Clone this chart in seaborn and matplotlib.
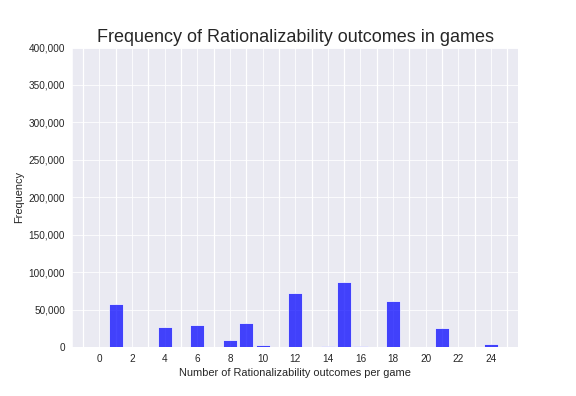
import matplotlib
matplotlib.use("Agg")
import matplotlib.pyplot as plt
import matplotlib.ticker as mticker
import seaborn as sns

# number of outcomes per game and how often it occurs
outcomes = list(range(25))
counts = [0, 58000, 0, 0, 27200, 0, 29900, 0, 9800, 32500, 3100, 0, 72700,
          0, 2300, 87400, 2000, 0, 62000, 0, 0, 25800, 0, 0, 4400]

sns.set_style("darkgrid", {'grid.linewidth': 1.25})
plt.rcParams['font.family'] = ['Liberation Sans', 'DejaVu Sans']

fig, ax = plt.subplots(figsize=(8, 5.5), dpi=72)
fig.subplots_adjust(left=0.125, right=0.9, top=0.88, bottom=0.123)

ax.bar(outcomes, counts, width=0.86, color='blue', alpha=0.72)

ax.set_ylim(0, 400000)
ax.xaxis.set_major_locator(mticker.MultipleLocator(2))
ax.xaxis.set_minor_locator(mticker.MultipleLocator(1))
ax.grid(which='minor', axis='x', color='white', linewidth=1.25)
ax.yaxis.set_major_formatter(mticker.FuncFormatter(lambda v, p: f"{int(v):,}"))
ax.tick_params(labelsize=10)

ax.set_title('Frequency of Rationalizability outcomes in games', fontsize=18)
ax.set_xlabel('Number of Rationalizability outcomes per game', fontsize=11)
ax.set_ylabel('Frequency', fontsize=11)

fig.savefig('out.png', dpi=72)
